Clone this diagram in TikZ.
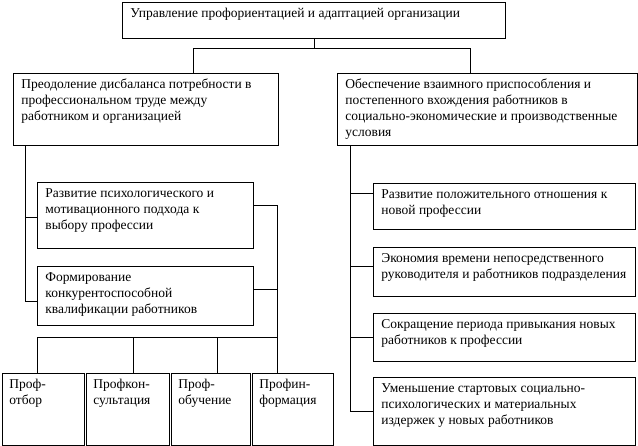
\documentclass[tikz,border=0pt]{standalone}
\usepackage{fontspec}
\setmainfont{Liberation Serif}
\usetikzlibrary{positioning}

\newcommand{\boxtext}[3]{\parbox[t][\dimexpr #2pt-8pt\relax][t]{\dimexpr #1pt-16pt\relax}{\raggedright\strut #3}}

\begin{document}
\begin{tikzpicture}[x=1pt, y=-1pt,
    blk/.style={draw, line width=0.8pt, anchor=north west, inner xsep=8pt, inner ysep=4pt,
      font=\fontsize{13.5}{16}\selectfont},
    link/.style={line width=0.8pt}]
    \useasboundingbox (0,0) rectangle (638,446);

    % top and the two main directions
    \node[blk] (top) at (122,2) {\boxtext{383}{36}{Управление профориентацией и адаптацией организации}};
    \node[blk] (lt) at (13,73) {\boxtext{265}{72}{Преодоление дисбаланса потребности в\\
      профессиональном труде между\\ работником и организацией}};
    \node[blk] (rt) at (337,73) {\boxtext{300}{72}{Обеспечение взаимного приспособления и\\
      постепенного вхождения работников в\\ социально-экономические и производственные\\ условия}};

    % left column
    \node[blk] (l1) at (37,182) {\boxtext{216}{66}{Развитие психологического и\\ мотивационного подхода к\\ выбору профессии}};
    \node[blk] (l2) at (37,266) {\boxtext{216}{59}{Формирование\\ конкурентоспособной\\ квалификации работников}};

    % bottom row
    \node[blk, inner xsep=7pt] (b1) at (2,373) {\boxtext{84}{72}{Проф-\\ отбор}};
    \node[blk, inner xsep=7pt] (b2) at (86,373) {\boxtext{85}{72}{Профкон-\\ сультация}};
    \node[blk, inner xsep=7pt] (b3) at (171,373) {\boxtext{81}{72}{Проф-\\ обучение}};
    \node[blk, inner xsep=7pt] (b4) at (252,373) {\boxtext{83}{72}{Профин-\\ формация}};

    % right column
    \node[blk] (r1) at (373,183) {\boxtext{262}{46}{Развитие положительного отношения к\\ новой профессии}};
    \node[blk] (r2) at (373,247) {\boxtext{262}{49}{Экономия времени непосредственного\\ руководителя и работников подразделения}};
    \node[blk] (r3) at (373,313) {\boxtext{262}{48}{Сокращение периода привыкания новых\\ работников к профессии}};
    \node[blk] (r4) at (373,377) {\boxtext{262}{68}{Уменьшение стартовых социально-\\ психологических и материальных\\ издержек у новых работников}};

    % links from the top box
    \draw[link] (top.south) -- ++(0,10) coordinate (tj);
    \draw[link] (tj) -| ([xshift=180pt]lt.north west);
    \draw[link] (tj) -| ([xshift=133pt]rt.north west);

    % left side of the left column
    \draw[link] ([xshift=12pt]lt.south west) |- ([yshift=-2pt]l1.west);
    \draw[link] ([xshift=12pt]lt.south west) |- ([yshift=-5.5pt]l2.west);

    % right side of the left column down to the bottom row
    \coordinate (bj) at (277,337);
    \draw[link] ([yshift=10pt]l1.east) -| (bj |- b4.north);
    \draw[link] ([yshift=6.5pt]l2.east) -| (bj);
    \draw[link] (bj) -| ([xshift=35pt]b1.north west);
    \draw[link] (bj) -| ([xshift=47pt]b2.north west);
    \draw[link] (bj) -| ([xshift=46pt]b3.north west);

    % right column
    \draw[link] ([xshift=13pt]rt.south west) |- ([yshift=13pt]r1.west);
    \draw[link] ([xshift=13pt]rt.south west) |- ([yshift=5.5pt]r2.west);
    \draw[link] ([xshift=13pt]rt.south west) |- (r3.west);
    \draw[link] ([xshift=13pt]rt.south west) |- (r4.west);
\end{tikzpicture}
\end{document}
